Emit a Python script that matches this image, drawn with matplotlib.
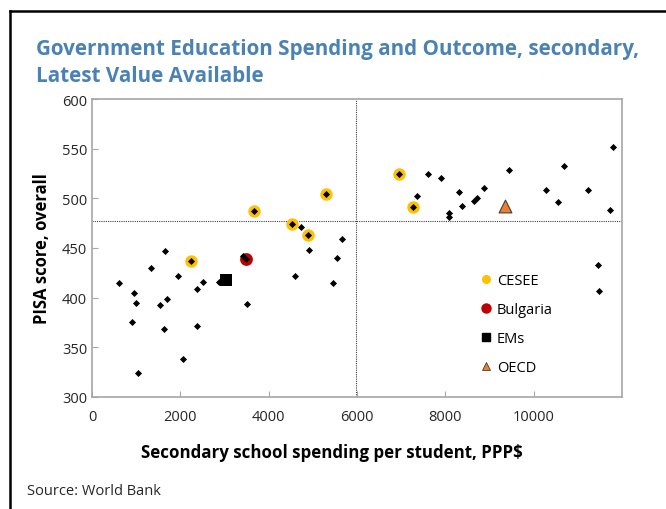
import matplotlib
matplotlib.use("Agg")
import matplotlib.pyplot as plt
from matplotlib.lines import Line2D

plt.rcParams.update({"font.family": ["Open Sans", "DejaVu Sans"], "font.size": 10.5})

TITLE = "#4a82b4"; GRAY = "#a6a6a6"; YEL = "#ffc000"; RED = "#c00000"; ORG = "#ed7d31"

# all countries: spending per student (PPP$) vs PISA score
all_x = [619, 951, 1004, 898, 1050, 1336, 1532, 1638, 1661, 1691, 1955, 2061, 2371, 2386,
         2514, 2884, 3413, 3481, 3518, 4605, 4727, 4908, 5451, 5549, 5670,
         2250, 3662, 4530, 4892, 5307, 6961, 7278,
         7354, 7618, 7905, 8086, 8093, 8320, 8381, 8652, 8713, 8879, 9452,
         10276, 10555, 10676, 11227, 11446, 11484, 11733, 11785]
all_y = [415, 405, 395, 376, 324, 430, 393, 368, 447, 399, 422, 338, 371, 409,
         416, 416, 442, 439, 394, 422, 471, 448, 415, 440, 459,
         437, 487, 474, 463, 504, 524, 491,
         502, 524, 520, 481, 485, 506, 492, 497, 500, 510, 529,
         508, 496, 533, 508, 433, 407, 488, 552]

cesee_x = [2250, 3662, 4530, 4892, 5307, 6961, 7278]
cesee_y = [437, 487, 474, 463, 504, 524, 491]
bulgaria_x, bulgaria_y = [3481], [439]
ems_x, ems_y = [3027], [418]
oecd_x, oecd_y = [9354], [492]

avg_spend = 5970   # sample average spending
avg_score = 477.5  # sample average score

fig = plt.figure(figsize=(6.66, 5.10), dpi=100)
ax = fig.add_axes([92/666, 1 - 398/510, 530/666, 298/510])

ax.scatter(cesee_x, cesee_y, s=80, color=YEL, lw=0, zorder=2)
ax.scatter(bulgaria_x, bulgaria_y, s=85, color=RED, lw=0, zorder=2)
ax.scatter(all_x, all_y, s=13, marker="D", color="black", lw=0, zorder=3)
ax.scatter(ems_x, ems_y, s=80, marker="s", color="black", lw=0, zorder=4)
ax.scatter(oecd_x, oecd_y, s=85, marker="^", color=ORG, edgecolor="#404040", lw=0.8, zorder=4)

ax.axvline(avg_spend, color="#404040", ls=(0, (1, 1)), lw=0.8, zorder=1)
ax.axhline(avg_score, color="#404040", ls=(0, (1, 1)), lw=0.8, zorder=1)

ax.set_xlim(0, 12000); ax.set_ylim(300, 600)
ax.set_xticks(range(0, 10001, 2000)); ax.set_yticks(range(300, 601, 50))
ax.tick_params(direction="in", color=GRAY, length=4, labelcolor="#262626", labelsize=10.5)
ax.tick_params(axis="x", pad=9)
for sp in ax.spines.values():
    sp.set_color(GRAY); sp.set_linewidth(1.2)

ax.set_ylabel("PISA score, overall", fontsize=12, fontweight="bold", labelpad=8)
ax.set_xlabel("Secondary school spending per student, PPP$", fontsize=12.2,
              fontweight="bold")
ax.xaxis.set_label_coords(0.453, -0.155)

handles = [
    Line2D([], [], ls="none", marker="o", ms=5.5, color=YEL, label="CESEE"),
    Line2D([], [], ls="none", marker="o", ms=6.5, color=RED, label="Bulgaria"),
    Line2D([], [], ls="none", marker="s", ms=5.5, color="black", label="EMs"),
    Line2D([], [], ls="none", marker="^", ms=6, color=ORG, markeredgecolor="#404040",
           markeredgewidth=0.6, label="OECD"),
]
ax.legend(handles=handles, loc="upper left", bbox_to_anchor=(0.725, 0.435), frameon=False,
          fontsize=10.5, handlelength=0.6, handletextpad=0.4, labelspacing=0.95,
          borderaxespad=0)

fig.text(36/666, 1 - 55/510, "Government Education Spending and Outcome, secondary,",
         color=TITLE, fontsize=14.9, fontweight="bold", va="baseline")
fig.text(36/666, 1 - 82/510, "Latest Value Available",
         color=TITLE, fontsize=14.9, fontweight="bold", va="baseline")
fig.text(27/666, 1 - 495/510, "Source: World Bank", fontsize=10.5, color="#262626",
         va="baseline")

# outer frame (left and top edges)
fig.add_artist(Line2D([10/666, 10/666], [0, 1 - 12/510], color="black", lw=1.8))
fig.add_artist(Line2D([10/666, 1], [1 - 12/510, 1 - 12/510], color="black", lw=1.8))

fig.savefig("out.png", dpi=100)
